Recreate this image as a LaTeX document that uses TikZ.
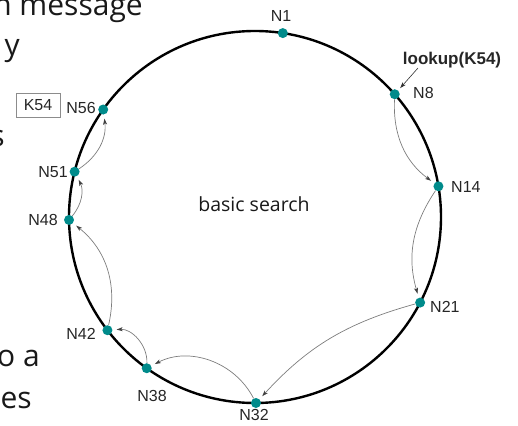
\documentclass[tikz,border=0pt]{standalone}
\usepackage{fontspec}
\setmainfont{Liberation Sans}
\newfontfamily\slidefont{Open Sans}
\usetikzlibrary{arrows.meta}
\definecolor{dotteal}{RGB}{0,139,139}
\definecolor{hopgray}{RGB}{125,125,125}
\begin{document}
\begin{tikzpicture}[x=1pt,y=1pt,
  ring/.style={line width=2.4pt, draw=black},
  peer/.style={circle, fill=dotteal, inner sep=0pt, minimum size=10pt},
  lbl/.style={font=\fontsize{16}{16}\selectfont, text=black!85, inner sep=0pt},
  slide/.style={font=\slidefont\fontsize{30}{30}\selectfont, text=black!90, inner sep=0pt, anchor=base east},
  hop/.style={draw=hopgray, line width=0.7pt, -{Stealth[length=6pt,width=4pt,inset=1.5pt,color=black!75]}, shorten >=4pt},
  keybox/.style={draw=black!45, line width=0.8pt, minimum width=44pt, minimum height=24pt, inner sep=0pt, font=\fontsize{16}{16}\selectfont, text=black!85}
]
\useasboundingbox (-255,-208) rectangle (263,217);
\clip (-255,-208) rectangle (263,217);
% slide text fragments
\node[slide] (s1) at (-112,201) {n message};
\node[slide] (s2) at (-235,161) {y};
\node[slide] (s3) at (-250,70) {s};
\node[slide] (s4) at (-215,-149) {o a};
\node[slide] (s5) at (-223,-191) {es};
% ring
\draw[ring] (0,0) circle (186);
% peers
\node[peer] (n1) at (81.4:186) {};
\node[peer] (n8) at (41.3:186) {};
\node[peer] (n14) at (9.5:186) {};
\node[peer] (n21) at (-27.4:186) {};
\node[peer] (n32) at (-89.7:186) {};
\node[peer] (n38) at (-125.6:186) {};
\node[peer] (n42) at (-142.5:186) {};
\node[peer] (n48) at (180.9:186) {};
\node[peer] (n51) at (165.9:186) {};
\node[peer] (n56) at (144.7:186) {};
% labels
\node[lbl] (l1) at (26,201) {N1};
\node[lbl, anchor=west] (l8) at (158,124) {N8};
\node[lbl, anchor=west] (l14) at (196,30) {N14};
\node[lbl, anchor=west] (l21) at (175,-90) {N21};
\node[lbl] (l32) at (-1,-198) {N32};
\node[lbl] (l38) at (-103,-179) {N38};
\node[lbl] (l42) at (-174,-117) {N42};
\node[lbl] (l48) at (-212,-3) {N48};
\node[lbl] (l51) at (-202,45) {N51};
\node[lbl] (l56) at (-174,109) {N56};
\node[keybox] (k54) at (-217,112) {K54};
\node[lbl, font=\bfseries\fontsize{17}{17}\selectfont] (lookup) at (197,157) {lookup(K54)};
\node[font=\slidefont\fontsize{19.5}{19.5}\selectfont, text=black!90, inner sep=0pt, anchor=base] (basic) at (-1,5) {basic search};
% lookup arrow
\coordinate (lkstart) at (163,149);
\draw[line width=0.6pt, black!80, -{Stealth[length=6pt,width=4pt,inset=1.5pt]}, shorten >=3pt] (lkstart) -- (n8);
% hops
\draw[hop] (n8) to[bend right=28] (n14);
\draw[hop] (n14) to[bend right=25] (n21);
\draw[hop] (n21) to[bend right=16] (n32);
\draw[hop] (n32) to[bend right=45] (n38);
\draw[hop] (n38) to[bend right=48] (n42);
\draw[hop] (n42) to[bend right=32] (n48);
\draw[hop] (n48) to[bend right=33] (n51);
\draw[hop] (n51) to[bend right=32] (n56);
\end{tikzpicture}
\end{document}
